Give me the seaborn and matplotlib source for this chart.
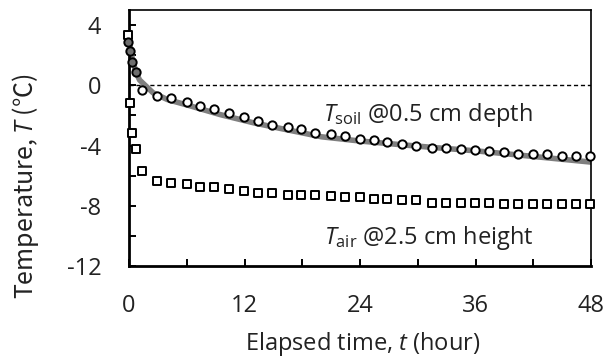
import numpy as np
import pandas as pd
import seaborn as sns
import matplotlib.pyplot as plt
from matplotlib.ticker import MultipleLocator, FixedLocator, FixedFormatter

# elapsed time of the measured points (hour)
t_early = [-0.1, 0.12, 0.35, 0.7]
t_obs = [1.32, 2.95, 4.33, 6.0, 7.38, 8.83, 10.4, 11.9, 13.4, 14.9, 16.55, 17.9,
         19.3, 20.95, 22.4, 24.0, 25.45, 26.8, 28.4, 29.8, 31.45, 32.9, 34.5, 35.9,
         37.4, 38.96, 40.45, 42.0, 43.4, 44.95, 46.4, 47.9]

# soil temperature at 0.5 cm depth
soil_early = [2.9, 2.25, 1.52, 0.89]
soil_obs = [-0.3, -0.7, -0.83, -1.1, -1.35, -1.56, -1.85, -2.09, -2.38, -2.62, -2.75, -2.87,
            -3.2, -3.26, -3.38, -3.55, -3.66, -3.77, -3.93, -4.04, -4.15, -4.15, -4.26, -4.3,
            -4.37, -4.44, -4.54, -4.59, -4.59, -4.7, -4.7, -4.7]

# air temperature at 2.5 cm height
air_early = [3.36, -1.16, -3.15, -4.26]
air_obs = [-5.72, -6.36, -6.46, -6.58, -6.73, -6.73, -6.91, -7.02, -7.13, -7.13, -7.28, -7.28,
           -7.3, -7.35, -7.42, -7.42, -7.57, -7.57, -7.64, -7.64, -7.79, -7.79, -7.79, -7.79,
           -7.79, -7.86, -7.86, -7.86, -7.86, -7.86, -7.86, -7.86]

# simulated soil temperature (grey curve)
t_sim = [0, 0.3, 0.7, 1.1, 2.5, 4, 6, 9.5, 13, 16, 20, 24, 28, 32, 36, 40, 44, 48]
soil_sim = [3.0, 1.9, 0.9, 0.35, -0.5, -0.95, -1.3, -1.95, -2.5, -2.9, -3.42, -3.7,
            -3.93, -4.15, -4.35, -4.6, -4.85, -5.1]

x_major = [0, 12, 24, 36, 48]
y_major = [-12, -8, -4, 0, 4]
y_labels = ['-12', '-8', '-4', '0', '4']

sns.set_style('ticks')
plt.rcParams['font.family'] = ['Open Sans', 'Noto Sans CJK KR', 'DejaVu Sans']
plt.rcParams['mathtext.fontset'] = 'custom'
plt.rcParams['mathtext.rm'] = 'Open Sans'
plt.rcParams['mathtext.it'] = 'Open Sans:italic'

fs = 17
txt = '#222222'

fig = plt.figure(figsize=(6.16, 3.61), dpi=100)
ax = fig.add_axes([129 / 616, 1 - 266 / 361, 462 / 616, 256 / 361])

sim = pd.DataFrame({'t': t_sim, 'T': soil_sim})
sns.lineplot(data=sim, x='t', y='T', ax=ax, color='#7f7f7f', lw=4, zorder=2)
ax.axhline(0, color='black', lw=1, ls=(0, (3, 2)), zorder=1)

early = pd.DataFrame({'t': t_early, 'soil': soil_early, 'air': air_early})
obs = pd.DataFrame({'t': t_obs, 'soil': soil_obs, 'air': air_obs})

kw = dict(ax=ax, s=36, linewidth=1.4, edgecolor='black', clip_on=False, zorder=3)
sns.scatterplot(data=pd.concat([early, obs]), x='t', y='air', marker='s',
                facecolor='white', **kw)
sns.scatterplot(data=obs, x='t', y='soil', marker='o', facecolor='white', **kw)
sns.scatterplot(data=early, x='t', y='soil', marker='o', facecolor='#6e6e6e', **kw)

ax.text(20.2, -2.34, r'$T_{\mathrm{soil}}$ @0.5 cm depth', fontsize=fs,
        ha='left', va='baseline', color=txt)
ax.text(20.3, -10.56, r'$T_{\mathrm{air}}$ @2.5 cm height', fontsize=fs,
        ha='left', va='baseline', color=txt)

ax.set_xlim(0, 48)
ax.set_ylim(-12, 5)
ax.xaxis.set_major_locator(FixedLocator(x_major))
ax.xaxis.set_minor_locator(MultipleLocator(6))
ax.yaxis.set_major_locator(FixedLocator(y_major))
ax.yaxis.set_major_formatter(FixedFormatter(y_labels))
ax.yaxis.set_minor_locator(MultipleLocator(2))
ax.tick_params(which='both', direction='in', length=5, width=1.4, colors='black',
               labelsize=fs, labelcolor=txt)
ax.tick_params(axis='x', which='major', pad=20)
ax.tick_params(axis='y', which='major', pad=20)

for side in ['left', 'bottom']:
    ax.spines[side].set_linewidth(2)
for side in ['top', 'right']:
    ax.spines[side].set_linewidth(1.2)
    ax.spines[side].set_visible(True)
for s in ax.spines.values():
    s.set_color('black')

ax.set_xlabel('Elapsed time, $t$ (hour)', fontsize=fs, color=txt)
# ℃ is missing from Open Sans, so the y label uses the CJK face
ax.set_ylabel('Temperature, $T$ (℃)', fontsize=18, color=txt,
              family='Noto Sans CJK KR')
ax.xaxis.set_label_coords(0.506, -0.25)
ax.yaxis.set_label_coords(-0.19, 0.31)
if ax.get_legend():
    ax.get_legend().remove()

fig.savefig('out.png', dpi=100)
